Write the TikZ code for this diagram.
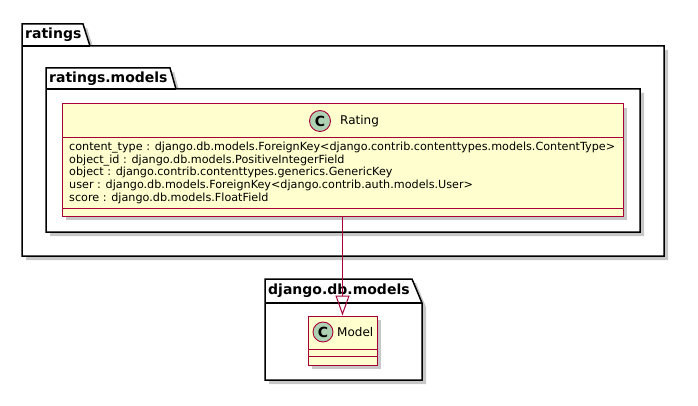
\documentclass[tikz,border=0pt]{standalone}
\usepackage{fontspec}
\setmainfont{DejaVu Sans}
\usetikzlibrary{shadows,arrows.meta}
\definecolor{umlred}{HTML}{A80036}
\definecolor{umlfill}{HTML}{FEFECE}
\definecolor{umlcirc}{HTML}{ADD1B2}

\begin{document}
\begin{tikzpicture}[x=1pt,y=-1pt,
 shade/.style={drop shadow={shadow xshift=4pt,shadow yshift=-4pt,opacity=0.22,fill=black}},
 pkg/.style={draw=black,line width=1.5pt,fill=white,line join=miter,shade},
 ptitle/.style={font=\fontsize{14}{16}\selectfont\bfseries,anchor=west,inner sep=0pt},
 cls/.style={draw=umlred,line width=1pt,fill=umlfill,inner sep=0pt,shade},
 csep/.style={draw=umlred,line width=0.9pt},
 circ/.style={circle,draw=umlred,line width=0.9pt,fill=umlcirc,inner sep=0pt,minimum size=21pt,font=\fontsize{14}{16}\selectfont\bfseries},
 cname/.style={font=\fontsize{12}{14}\selectfont,anchor=west,inner sep=0pt},
 attrs/.style={font=\fontsize{11.2}{12.85}\selectfont,align=left,anchor=north west,inner sep=0pt}]
 \useasboundingbox (0,0) rectangle (698,406);
 % package ratings
 \draw[pkg] (22,24) -- (83,24) -- (90,46) -- (664,46) -- (664,256) -- (22,256) -- cycle;
 \draw[line width=1.5pt] (22,46) -- (90,46);
 \node[ptitle] (ratingsLbl) at (25,35) {ratings};
 % package ratings.models
 \draw[pkg] (46,68) -- (170,68) -- (176,89) -- (640,89) -- (640,232) -- (46,232) -- cycle;
 \draw[line width=1.5pt] (46,89) -- (176,89);
 \node[ptitle] (modelsLbl) at (49,79) {ratings.models};
 % class Rating
 \node[cls,minimum width=561pt,minimum height=112pt] (rating) at (342.5,160) {};
 \draw[csep] (62,137) -- (623,137);
 \draw[csep] (62,208) -- (623,208);
 \node[circ] (ratingC) at (320,121) {C};
 \node[cname] (ratingName) at (340,121) {Rating};
 \node[attrs] (ratingAttrs) at (69,141.5) {content\_type : django.db.models.ForeignKey<django.contrib.contenttypes.models.ContentType>\\
 object\_id : django.db.models.PositiveIntegerField\\
 object : django.contrib.contenttypes.generics.GenericKey\\
 user : django.db.models.ForeignKey<django.contrib.auth.models.User>\\
 score : django.db.models.FloatField};
 % package django.db.models
 \draw[pkg] (265,279) -- (412,279) -- (422,303) -- (422,380) -- (265,380) -- cycle;
 \draw[line width=1.5pt] (265,303) -- (422,303);
 \node[ptitle] (djangoLbl) at (268,291) {django.db.models};
 % class Model
 \node[cls,minimum width=69pt,minimum height=49pt] (model) at (342.5,340.5) {};
 \draw[csep] (308,349) -- (377,349);
 \draw[csep] (308,356) -- (377,356);
 \node[circ,minimum size=20pt] (modelC) at (323,332) {C};
 \node[cname] (modelName) at (337,332) {Model};
 % inheritance
 \draw[umlred,line width=0.8pt,-{Triangle[open,width=14pt,length=20pt,line width=1pt]}] (rating.south) -- (model.north);
\end{tikzpicture}
\end{document}
